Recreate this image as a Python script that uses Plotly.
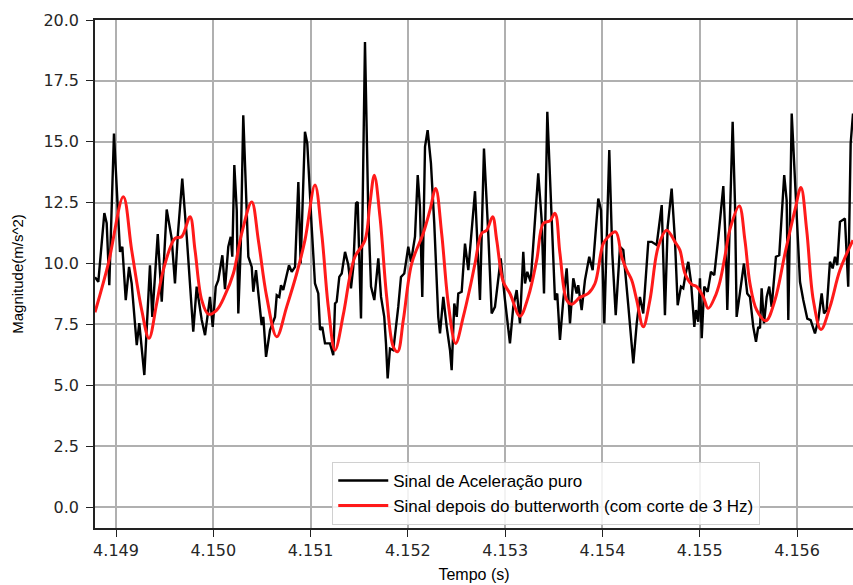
import plotly.graph_objects as go

raw_t = [4.148784, 4.148818, 4.148880, 4.148904, 4.148931, 4.148979, 4.149041, 4.149065, 4.149100, 4.149134,
         4.149161, 4.149213, 4.149239, 4.149291, 4.149349, 4.149373, 4.149429, 4.149470, 4.149521, 4.149572,
         4.149606, 4.149634, 4.149681, 4.149727, 4.149794, 4.149829, 4.149881, 4.149915, 4.149966, 4.149994,
         4.150025, 4.150051, 4.150093, 4.150120, 4.150154, 4.150179, 4.150195, 4.150216, 4.150241, 4.150257,
         4.150282, 4.150308, 4.150360, 4.150395, 4.150411, 4.150439, 4.150463, 4.150497, 4.150514, 4.150542,
         4.150583, 4.150634, 4.150652, 4.150678, 4.150696, 4.150719, 4.150754, 4.150778, 4.150806, 4.150840,
         4.150874, 4.150898, 4.150942, 4.150966, 4.151011, 4.151045, 4.151079, 4.151097, 4.151120, 4.151148,
         4.151199, 4.151233, 4.151251, 4.151268, 4.151295, 4.151320, 4.151354, 4.151387, 4.151415, 4.151439,
         4.151467, 4.151484, 4.151518, 4.151559, 4.151593, 4.151621, 4.151655, 4.151696, 4.151724, 4.151757,
         4.151775, 4.151792, 4.151816, 4.151850, 4.151901, 4.151929, 4.151963, 4.152004, 4.152032, 4.152073,
         4.152101, 4.152124, 4.152148, 4.152176, 4.152203, 4.152237, 4.152271, 4.152312, 4.152330, 4.152364,
         4.152399, 4.152433, 4.152450, 4.152477, 4.152502, 4.152518, 4.152553, 4.152587, 4.152621, 4.152690,
         4.152741, 4.152782, 4.152826, 4.152861, 4.152895, 4.152954, 4.152998, 4.153049, 4.153083, 4.153118,
         4.153152, 4.153186, 4.153204, 4.153227, 4.153262, 4.153296, 4.153340, 4.153375, 4.153399, 4.153433,
         4.153478, 4.153512, 4.153535, 4.153563, 4.153597, 4.153632, 4.153666, 4.153700, 4.153735, 4.153751,
         4.153786, 4.153820, 4.153864, 4.153899, 4.153957, 4.153985, 4.154019, 4.154070, 4.154101, 4.154136,
         4.154180, 4.154214, 4.154265, 4.154317, 4.154352, 4.154385, 4.154419, 4.154471, 4.154506, 4.154557,
         4.154609, 4.154642, 4.154670, 4.154711, 4.154745, 4.154773, 4.154807, 4.154830, 4.154855, 4.154882,
         4.154910, 4.154944, 4.154961, 4.154985, 4.155002, 4.155020, 4.155046, 4.155081, 4.155115, 4.155149,
         4.155190, 4.155242, 4.155269, 4.155283, 4.155338, 4.155362, 4.155379, 4.155413, 4.155454, 4.155488,
         4.155516, 4.155550, 4.155578, 4.155601, 4.155619, 4.155636, 4.155660, 4.155688, 4.155714, 4.155739,
         4.155783, 4.155817, 4.155868, 4.155893, 4.155910, 4.155945, 4.155978, 4.156012, 4.156030, 4.156064,
         4.156105, 4.156140, 4.156184, 4.156218, 4.156253, 4.156277, 4.156304, 4.156338, 4.156366, 4.156390,
         4.156413, 4.156441, 4.156469, 4.156492, 4.156526, 4.156551, 4.156575]

raw_v = [9.44, 9.25, 12.07, 11.66, 9.11, 15.34, 10.48, 10.69, 8.50, 9.86,
         9.18, 6.65, 7.55, 5.42, 9.93, 7.81, 11.21, 8.43, 12.22, 11.03,
         9.18, 11.10, 13.49, 11.10, 7.20, 9.05, 7.68, 7.06, 8.63, 7.40,
         9.05, 9.32, 10.34, 8.95, 10.69, 11.10, 10.28, 14.04, 12.19, 7.95,
         10.69, 16.09, 10.28, 9.86, 8.84, 9.73, 8.77, 7.47, 7.81, 6.17,
         7.27, 7.81, 8.70, 8.63, 9.11, 8.91, 9.52, 9.93, 9.66, 9.86,
         13.35, 10.00, 15.41, 14.93, 11.51, 9.18, 8.77, 7.27, 7.40, 6.72,
         6.72, 6.24, 8.36, 8.43, 9.45, 9.59, 10.48, 9.95, 8.98, 9.86,
         12.47, 12.53, 7.74, 19.10, 12.06, 9.05, 8.50, 10.21, 8.63, 7.81,
         6.70, 5.28, 6.51, 6.44, 8.22, 9.45, 9.59, 10.69, 10.07, 11.10,
         13.63, 12.33, 8.63, 14.79, 15.48, 14.11, 11.65, 7.81, 7.13, 8.63,
         7.40, 6.44, 5.62, 8.36, 7.81, 8.77, 8.84, 10.82, 9.73, 12.97,
         8.50, 14.72, 11.24, 7.95, 8.22, 10.21, 8.50, 6.72, 8.22, 8.91,
         7.54, 10.48, 9.18, 9.66, 9.25, 11.37, 13.70, 11.78, 8.77, 16.23,
         11.51, 8.50, 8.77, 6.86, 8.50, 9.80, 7.54, 9.39, 8.77, 9.11,
         8.09, 9.32, 10.28, 9.73, 12.67, 12.19, 7.54, 14.66, 10.41, 7.88,
         10.69, 10.55, 8.29, 5.90, 7.54, 8.63, 7.95, 10.89, 10.89, 10.76,
         12.40, 7.88, 11.51, 13.08, 10.96, 8.29, 9.05, 8.98, 9.59, 10.07,
         9.25, 7.40, 8.09, 7.61, 9.39, 6.93, 9.05, 8.84, 9.66, 9.52,
         11.03, 13.18, 10.55, 8.09, 15.82, 12.47, 7.81, 8.91, 10.00, 8.77,
         8.63, 7.40, 6.79, 7.40, 7.34, 8.98, 7.54, 8.63, 9.05, 8.22,
         10.28, 10.34, 13.63, 12.60, 7.68, 16.16, 13.42, 10.96, 9.25, 8.50,
         7.74, 7.68, 7.13, 7.68, 8.77, 7.95, 8.09, 10.07, 9.80, 10.28,
         9.93, 11.71, 11.78, 11.85, 9.05, 14.93, 16.16]

filt_t = [4.148784, 4.148921, 4.149075, 4.149161, 4.149264, 4.149339, 4.149418, 4.149486, 4.149606, 4.149675,
          4.149761, 4.149812, 4.149881, 4.149949, 4.150035, 4.150120, 4.150206, 4.150292, 4.150395, 4.150463,
          4.150549, 4.150652, 4.150754, 4.150857, 4.150942, 4.151045, 4.151114, 4.151182, 4.151251, 4.151336,
          4.151405, 4.151456, 4.151559, 4.151610, 4.151655, 4.151713, 4.151782, 4.151850, 4.151895, 4.151953,
          4.152039, 4.152158, 4.152227, 4.152286, 4.152347, 4.152415, 4.152491, 4.152569, 4.152638, 4.152690,
          4.152758, 4.152810, 4.152871, 4.152913, 4.152980, 4.153049, 4.153152, 4.153237, 4.153324, 4.153392,
          4.153460, 4.153512, 4.153563, 4.153632, 4.153683, 4.153769, 4.153854, 4.153923, 4.154008, 4.154060,
          4.154136, 4.154197, 4.154249, 4.154300, 4.154352, 4.154419, 4.154488, 4.154573, 4.154660, 4.154745,
          4.154796, 4.154848, 4.154917, 4.154968, 4.155036, 4.155087, 4.155156, 4.155207, 4.155259, 4.155310,
          4.155406, 4.155464, 4.155516, 4.155585, 4.155680, 4.155773, 4.155876, 4.155978, 4.156040, 4.156099,
          4.156167, 4.156246, 4.156338, 4.156441, 4.156575]

filt_v = [8.00, 10.00, 12.74, 10.55, 8.09, 6.93, 8.36, 9.73, 11.03, 11.10,
          11.92, 10.55, 8.50, 7.92, 8.09, 8.70, 9.59, 11.24, 12.53, 10.96,
          8.63, 6.99, 8.22, 9.59, 10.96, 13.22, 11.24, 8.22, 6.44, 7.90,
          9.50, 10.28, 10.96, 12.47, 13.63, 11.92, 8.63, 6.58, 6.38, 7.68,
          10.00, 11.24, 12.19, 13.08, 11.24, 8.36, 6.72, 7.81, 9.00, 10.00,
          11.24, 11.37, 11.92, 10.96, 9.25, 8.77, 7.84, 8.63, 10.14, 11.65,
          11.75, 12.06, 10.41, 8.50, 8.33, 8.61, 8.77, 9.18, 10.82, 11.10,
          11.30, 10.28, 9.73, 9.32, 8.50, 7.40, 8.50, 10.69, 11.37, 10.89,
          10.55, 9.59, 9.14, 9.05, 8.63, 8.16, 8.63, 9.25, 10.30, 11.40,
          12.36, 10.96, 9.18, 8.09, 7.65, 8.50, 10.41, 12.19, 13.12, 11.37,
          8.50, 7.29, 8.22, 9.73, 10.96]

y_ticks = [0.0, 2.5, 5.0, 7.5, 10.0, 12.5, 15.0, 17.5, 20.0]
x_ticks = [4.149, 4.150, 4.151, 4.152, 4.153, 4.154, 4.155, 4.156]

fig = go.Figure()
fig.add_trace(go.Scatter(x=raw_t, y=raw_v, mode="lines", name="Sinal de Aceleração puro",
                         line=dict(color="black", width=2.4)))
fig.add_trace(go.Scatter(x=filt_t, y=filt_v, mode="lines",
                         name="Sinal depois do butterworth (com corte de 3 Hz)",
                         line=dict(color="#ff1a1a", width=3, shape="spline", smoothing=1.0)))

tick_font = dict(family="DejaVu Sans", size=16, color="#262626")
fig.update_layout(
    width=853, height=585,
    margin=dict(l=95, r=0, t=20, b=57),
    paper_bgcolor="white", plot_bgcolor="white",
    showlegend=True,
    legend=dict(x=0.313, y=0.13, xanchor="left", yanchor="top",
                bgcolor="rgba(255,255,255,0.85)", bordercolor="#d0d0d0", borderwidth=1,
                font=dict(family="Liberation Sans", size=17, color="black"),
                itemwidth=50),
    xaxis=dict(range=[4.148784, 4.156575], tickvals=x_ticks, tickformat=".3f",
               showgrid=True, gridcolor="#b0b0b0", gridwidth=1.5,
               showline=True, linecolor="#222", linewidth=1.5, mirror=True,
               ticks="outside", ticklen=7, tickwidth=1.3, tickcolor="#222",
               tickfont=tick_font, zeroline=False,
               title=dict(text="Tempo (s)", font=dict(family="Liberation Sans", size=16, color="black"), standoff=10)),
    yaxis=dict(range=[-0.86, 20.0], tickvals=y_ticks, tickformat=".1f",
               showgrid=True, gridcolor="#b0b0b0", gridwidth=1.5,
               showline=True, linecolor="#222", linewidth=1.5, mirror=False,
               ticks="outside", ticklen=7, tickwidth=1.3, tickcolor="#222",
               tickfont=tick_font, zeroline=False, ticklabelstandoff=4,
               title=dict(text="Magnitude(m/s^2)", font=dict(family="Liberation Sans", size=15, color="black"), standoff=16)),
)

fig.write_html("out.html")
